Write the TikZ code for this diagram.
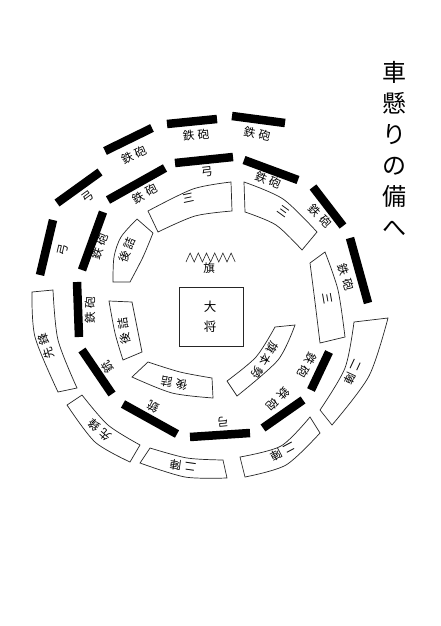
\documentclass[tikz,border=0pt]{standalone}
\usepackage{fontspec}
\newfontfamily\cjk{Noto Sans CJK JP}
\newcommand\tw[2]{#1\kern3.5pt#2}
\newcommand\thr[3]{#1\kern3pt#2\kern3pt#3}
\begin{document}
\begin{tikzpicture}[x=1pt,y=-1pt,
  bar/.style={line width=8.5pt, black},
  boxl/.style={draw=black!85, line width=0.7pt},
  lab/.style={font=\cjk\fontsize{11.5}{12}\selectfont, inner sep=0pt},
  ttl/.style={font=\cjk\fontsize{24}{31}\selectfont, align=center, inner sep=0pt},
]
\useasboundingbox (0,0) rectangle (440,626);
\fill[white] (0,0) rectangle (440,626);

% title
\node[ttl] (title) at (394,149) {車\\懸\\り\\の\\備\\へ};

% ---------- bars ----------
\draw[bar] (167,124) -- (217,119);
\draw[bar] (232,116) -- (285,123);
\draw[bar] (105,151) -- (152,128);
\draw[bar] (57,203) -- (100,172);
\draw[bar] (53,220) -- (40,275);
\draw[bar] (108,200) -- (165,168);
\draw[bar] (175,163) -- (233,157);
\draw[bar] (244,160) -- (298,180);
\draw[bar] (313,187) -- (343,226);
\draw[bar] (350,238) -- (368,303);
\draw[bar] (103,212) -- (82,270);
\draw[bar] (77,282) -- (79,337);
\draw[bar] (82,350) -- (112,394);
\draw[bar] (123,404) -- (177,434);
\draw[bar] (190,437) -- (250,433);
\draw[bar] (263,428) -- (303,400);
\draw[bar] (329,352) -- (311,390);

% ---------- boxes ----------
% A
\draw[boxl] plot[smooth] coordinates {(148,211) (193,189) (231,182)} -- plot[smooth] coordinates {(232,211) (195,216) (158,232)} -- cycle;
% B
\draw[boxl] plot[smooth] coordinates {(244,182) (283,199) (317,232)} -- plot[smooth] coordinates {(302,250) (276,225) (245,212)} -- cycle;
% C
\draw[boxl] plot[smooth] coordinates {(325,252) (338,290) (345,337)} -- plot[smooth] coordinates {(320,343) (315,302) (310,263)} -- cycle;
% D
\draw[boxl] plot[smooth] coordinates {(113,282) (114,257) (121,237) (137,219)} -- plot[smooth] coordinates {(153,233) (143,257) (130,282)} -- cycle;
% E
\draw[boxl] plot[smooth] coordinates {(132,302) (137,327) (142,352)} -- plot[smooth] coordinates {(123,360) (115,333) (109,301)} -- cycle;
% F
\draw[boxl] plot[smooth] coordinates {(148,362) (180,372) (212,378)} -- plot[smooth] coordinates {(213,398) (172,393) (132,377)} -- cycle;
% G
\draw[boxl] plot[smooth] coordinates {(295,325) (278,360) (237,396)} -- plot[smooth] coordinates {(227,381) (256,357) (275,327)} -- cycle;
% H
\draw[boxl] plot[smooth] coordinates {(32,292) (35,337) (58,392)} -- plot[smooth] coordinates {(77,388) (58,340) (53,290)} -- cycle;
% I
\draw[boxl] plot[smooth] coordinates {(67,405) (95,442) (130,462)} -- plot[smooth] coordinates {(140,445) (108,425) (82,395)} -- cycle;
% J
\draw[boxl] plot[smooth] coordinates {(140,463) (185,477) (227,478)} -- plot[smooth] coordinates {(223,460) (187,458) (150,448)} -- cycle;
% K
\draw[boxl] plot[smooth] coordinates {(245,477) (286,465) (320,433)} -- plot[smooth] coordinates {(310,417) (281,446) (240,457)} -- cycle;
% L
\draw[boxl] plot[smooth] coordinates {(388,318) (369,376) (332,425)} -- plot[smooth] coordinates {(320,410) (345,368) (354,322)} -- cycle;

% general's box and flag
\draw[boxl] (179,287) rectangle (243,346);
\node[font=\cjk\fontsize{12.5}{20}\selectfont, align=center, inner sep=0pt] (taisho) at (210,317) {大\\将};
\draw[black!85, line width=0.6pt] (186,262) \foreach \i in {1,...,6} { -- ++(4.1,-9) -- ++(4.1,9) };
\node[lab] (hata) at (209,268) {旗};

% ---------- labels ----------
\node[lab, rotate=6] (l1) at (196,135) {\tw{鉄}{砲}};
\node[lab, rotate=-12] (l2) at (257,134) {\tw{鉄}{砲}};
\node[lab, rotate=27] (l3) at (134,155) {\tw{鉄}{砲}};
\node[lab, rotate=36] (l4) at (88,197) {弓};
\node[lab, rotate=77] (l5) at (63,250) {弓};
\node[lab, rotate=29] (l6) at (145,194) {\tw{鉄}{砲}};
\node[lab, rotate=6] (l7) at (207,172) {弓};
\node[lab, rotate=-22] (l8) at (268,180) {\tw{鉄}{砲}};
\node[lab, rotate=12] (l9) at (188,198) {三};
\node[lab, rotate=-36] (l10) at (284,211) {三};
\node[lab, rotate=-45] (l11) at (320,216) {\tw{鉄}{砲}};
\node[lab, rotate=-72] (l12) at (346,277) {\tw{鉄}{砲}};
\node[lab, rotate=-80] (l13) at (328,298) {三};
\node[lab, rotate=68] (l16) at (127,250) {\tw{後}{詰}};
\node[lab, rotate=70] (l17) at (100,247) {\tw{鉄}{砲}};
\node[lab, rotate=90] (l18) at (90,310) {\tw{鉄}{砲}};
\node[lab, rotate=99] (l19) at (124,331) {\tw{後}{詰}};
\node[lab, rotate=124] (l20) at (108,367) {銃};
\node[lab, rotate=170] (l21) at (174,383) {\tw{後}{詰}};
\node[lab, rotate=-120] (l22) at (265,360) {\thr{旗}{本}{勢}};
\node[lab, rotate=153] (l23) at (153,407) {銃};
\node[lab, rotate=-175] (l24) at (223,422) {弓};
\node[lab, rotate=-135] (l25) at (278,399) {\tw{鉄}{砲}};
\node[lab, rotate=-118] (l26) at (307,365) {\tw{鉄}{砲}};
\node[lab, rotate=107] (l27) at (46,346) {\tw{先}{鋒}};
\node[lab, rotate=139] (l28) at (100,430) {\tw{先}{鋒}};
\node[lab, rotate=172] (l29) at (183,466) {\tw{二}{陣}};
\node[lab, rotate=-152] (l30) at (283,452) {\tw{二}{陣}};
\node[lab, rotate=-115] (l31) at (353,372) {\tw{二}{陣}};
\end{tikzpicture}
\end{document}
